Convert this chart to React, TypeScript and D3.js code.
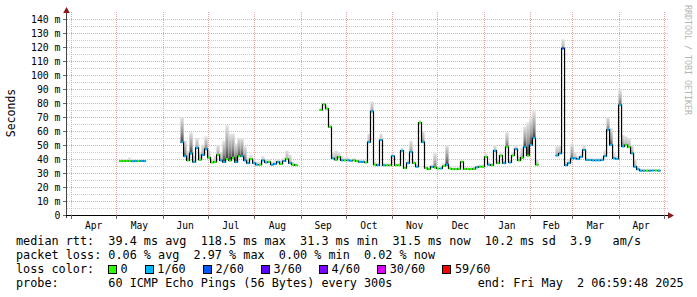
import React from "react";
import * as d3 from "d3";

const W = 697;
const H = 297;
const START = new Date(Date.UTC(2024, 2, 28, 6, 59, 48));
const END = new Date(Date.UTC(2025, 4, 2, 6, 59, 48));
const STEP_DAYS = 2;

const monthStarts = [
  "2024-04-01", "2024-05-01", "2024-06-01", "2024-07-01", "2024-08-01", "2024-09-01", "2024-10-01",
  "2024-11-01", "2024-12-01", "2025-01-01", "2025-02-01", "2025-03-01", "2025-04-01", "2025-05-01",
];
const monthLabels = ["Apr", "May", "Jun", "Jul", "Aug", "Sep", "Oct", "Nov", "Dec", "Jan", "Feb", "Mar", "Apr"];
const yTicks = [0, 10, 20, 30, 40, 50, 60, 70, 80, 90, 100, 110, 120, 130, 140];

// segment start times (2-day samples)
const segmentStarts = ["2024-05-03T00:00:00Z", "2024-06-13T00:00:00Z", "2024-09-13T15:00:00Z", "2025-02-18T00:00:00Z"];

// median rtt (ms), smoke top (ms), loss index
const mayMedian = [38.5, 38.5, 38.6, 38.5, 38.4, 38.5, 38.5, 38.6, 38.5];
const mayTop = [39.5, 40, 40, 41, 40, 39.5, 39.5, 39.5, 39.5];
const mayLoss = [0, 0, 0, 0, 1, 1, 0, 1, 1];

const summerMedian = [52, 42, 39, 44, 38, 48, 39.5, 43, 47, 41, 37.5, 38, 43, 39, 38, 40, 39, 41, 38, 42, 42, 39, 37, 40, 37, 36, 36, 39, 37.5, 38, 36, 36.5, 38, 36.5, 38.5, 40, 37, 36, 35.5];
const summerTop = [70, 53, 46, 59, 42, 55, 45, 50, 56, 46, 40, 42, 50, 45, 53, 64, 58, 58, 51, 55, 55, 49, 41, 43, 40, 38, 38, 42, 40, 40, 37.5, 39, 40, 39, 41, 46, 43, 38, 37];
const summerLoss = [1, 1, 0, 1, 1, 1, 0, 1, 1, 0, 0, 0, 0, 1, 1, 0, 0, 0, 1, 0, 1, 1, 1, 0, 1, 1, 0, 1, 1, 0, 1, 1, 1, 0, 1, 0, 1, 0, 0];

const winterMedian = [
  75, 79, 76, 63, 40.5, 39.5, 41.5, 39, 39, 39, 38.8, 39, 38.5, 38, 38, 37.5, 52, 74, 36, 35.5,
  53.5, 35.5, 35.5, 35.5, 42, 35.5, 35.5, 46, 33.5, 37, 45, 37, 34.5, 66, 52, 33.5, 32.8, 34.5, 34, 33.2,
  33.2, 35, 36, 33.2, 32.8, 32.8, 33, 38, 32.8, 32.8, 32.8, 33, 34, 34.5, 34.5, 41.5, 36, 35.5, 46, 37,
  42.5, 37, 48.5, 37.5, 42.5, 47, 39, 41, 48.5, 42.5, 50, 55, 36,
];
const winterTop = [
  77, 80, 78, 65, 45, 46, 45, 42, 41, 41, 40, 40.5, 40, 40, 39.5, 39, 58, 81, 38, 37,
  58, 37, 37, 36.5, 43, 37, 37, 48, 35, 40, 53, 39, 36, 68, 60, 35, 34, 36, 44, 34.5,
  34.5, 37, 50, 35, 34, 34, 34, 39, 34, 34, 34, 34.5, 35.5, 36, 36, 44, 38, 37, 50, 40,
  45, 39, 59, 40, 45, 50, 42, 48, 63, 66, 69, 74, 40,
];
const winterLoss = [
  0, 0, 0, 0, 1, 0, 0, 1, 0, 1, 1, 0, 0, 1, 1, 0, 1, 1, 0, 1,
  1, 1, 0, 0, 1, 0, 0, 1, 0, 1, 1, 0, 1, 0, 1, 0, 0, 1, 0, 0,
  1, 0, 1, 0, 0, 0, 0, 0, 0, 0, 0, 0, 1, 0, 0, 0, 1, 0, 1, 0,
  0, 1, 0, 1, 0, 1, 0, 0, 1, 0, 1, 1, 0,
];

const springMedian = [42.5, 44, 119, 35.5, 37, 40.5, 40.5, 40, 41.5, 46.5, 39.3, 39.3, 39, 39, 39, 39.3, 42, 61, 50, 40.5, 40, 78.5, 49, 50, 48.5, 44, 34.5, 32.6, 31.7, 31.7, 31.7, 31.7, 31.8, 31.8, 31.7];
const springTop = [49, 50, 125.5, 38, 40, 51, 45, 42, 44, 50, 41, 40.5, 40.5, 40.5, 40.5, 41, 46, 70, 62, 44, 42, 89.5, 57, 56, 55, 50, 40, 35, 33, 33, 33, 33, 33, 33, 33];
const springLoss = [1, 1, 2, 1, 1, 1, 1, 1, 1, 1, 1, 1, 1, 1, 1, 1, 1, 1, 1, 1, 1, 1, 1, 0, 0, 1, 1, 1, 1, 1, 0, 1, 1, 0, 1];

const lossColors = ["#26ff00", "#00b8ff", "#0059ff", "#5e00ff", "#7e00ff", "#dd00ff", "#ff0000"];
const lossLabels = ["0", "1/60", "2/60", "3/60", "4/60", "30/60", "59/60"];

const legendMedian = "median rtt:  39.4 ms avg  118.5 ms max  31.3 ms min  31.5 ms now  10.2 ms sd  3.9   am/s";
const legendLoss = "packet loss: 0.06 % avg  2.97 % max  0.00 % min  0.02 % now";
const legendColorTitle = "loss color:";
const legendProbe = "probe:       60 ICMP Echo Pings (56 Bytes) every 300s            end: Fri May  2 06:59:48 2025";

const MONO = "'DejaVu Sans Mono', monospace";
const DAY = 86400000;

export default function App() {
  const x = d3.scaleUtc().domain([START, END]).range([65.5, 665.5]);
  const y = d3.scaleLinear().domain([0, 140]).range([215, 19]);

  const segments = [
    { start: segmentStarts[0], med: mayMedian, top: mayTop, loss: mayLoss },
    { start: segmentStarts[1], med: summerMedian, top: summerTop, loss: summerLoss },
    { start: segmentStarts[2], med: winterMedian, top: winterTop, loss: winterLoss },
    { start: segmentStarts[3], med: springMedian, top: springTop, loss: springLoss },
  ].map((s) => {
    const t0 = new Date(s.start).getTime();
    return s.med.map((m, i) => ({
      a: new Date(t0 + i * STEP_DAYS * DAY),
      b: new Date(t0 + (i + 1) * STEP_DAYS * DAY),
      m,
      top: s.top[i],
      loss: s.loss[i],
    }));
  });

  const stepLine = d3
    .line<{ t: Date; v: number }>()
    .x((d) => x(d.t))
    .y((d) => y(d.v))
    .curve(d3.curveStepAfter);

  const majorColor = "rgb(236,166,166)";
  const minorColor = "rgb(205,205,205)";

  const months = monthStarts.map((d) => new Date(d + "T00:00:00Z"));

  // legend layout
  const CH = 7.1;
  let lx = 108;
  const legendItems = lossLabels.map((lab, i) => {
    const item = { bx: lx, tx: lx + 12.5, lab, color: lossColors[i] };
    lx = item.tx + lab.length * CH + 17.2;
    return item;
  });

  return (
    <svg width={W} height={H} style={{ display: "block", position: "absolute", left: 0, top: 0 }} xmlns="http://www.w3.org/2000/svg">
      <defs>
        <linearGradient id="smoke" x1="0" y1="1" x2="0" y2="0">
          <stop offset="0" stopColor="#2c2c2c" />
          <stop offset="0.4" stopColor="#8e8e8e" />
          <stop offset="1" stopColor="#e6e6e6" />
        </linearGradient>
      </defs>
      <rect x={0} y={0} width={W} height={H} fill="#ffffff" />

      {/* grid */}
      <g shapeRendering="crispEdges">
        {yTicks.slice(0, -1).map((v) => (
          <line key={"mn" + v} x1={67} x2={669} y1={Math.round(y(v + 5)) + 0.5} y2={Math.round(y(v + 5)) + 0.5} stroke={minorColor} strokeDasharray="1,1" />
        ))}
        {yTicks.slice(1).map((v) => (
          <line key={"mj" + v} x1={67} x2={669} y1={Math.round(y(v)) + 0.5} y2={Math.round(y(v)) + 0.5} stroke={majorColor} strokeDasharray="1,1" />
        ))}
        {months.map((m, i) => (
          <line key={"vg" + i} x1={Math.round(x(m)) + 0.5} x2={Math.round(x(m)) + 0.5} y1={12} y2={215} stroke={majorColor} strokeDasharray="1,1" />
        ))}
      </g>

      {/* smoke */}
      <g>
        {segments.map((seg, si) =>
          seg.map((d, i) => {
            const span = d.top - d.m;
            const x0 = x(d.a);
            const w = x(d.b) - x0;
            const yt = y(d.top);
            const yb = y(d.m - 0.6);
            return (
              <g key={`s${si}-${i}`}>
                <rect x={x0} y={yt} width={w} height={yb - yt} fill="#dedede" />
                <rect x={x0} y={yt} width={w} height={yb - yt} fill="url(#smoke)" fillOpacity={Math.max(0, Math.min(0.95, (span - 2) / 12))} />
              </g>
            );
          })
        )}
      </g>

      {/* median black step line */}
      <g fill="none" stroke="#000" strokeWidth={1.2}>
        {segments.map((seg, si) => {
          const pts = seg.map((d) => ({ t: d.a, v: d.m }));
          pts.push({ t: seg[seg.length - 1].b, v: seg[seg.length - 1].m });
          return <path key={"ml" + si} d={stepLine(pts) || ""} />;
        })}
      </g>

      {/* loss-colored median segments */}
      <g strokeWidth={2}>
        {segments.map((seg, si) =>
          seg.map((d, i) => (
            <line key={`c${si}-${i}`} x1={x(d.a) + 0.3} x2={x(d.b) - 0.3} y1={y(d.m)} y2={y(d.m)} stroke={lossColors[d.loss]} />
          ))
        )}
      </g>

      {/* axes */}
      <g shapeRendering="crispEdges">
        <line x1={66.5} x2={66.5} y1={10} y2={218} stroke="#444" />
        <line x1={63} x2={670} y1={215.5} y2={215.5} stroke="#000" />
        {yTicks.map((v) => (
          <line key={"yt" + v} x1={63} x2={66} y1={Math.round(y(v)) + 0.5} y2={Math.round(y(v)) + 0.5} stroke="#666" />
        ))}
        {months.map((m, i) => (
          <line key={"xt" + i} x1={Math.round(x(m)) + 0.5} x2={Math.round(x(m)) + 0.5} y1={215} y2={219} stroke="#666" />
        ))}
      </g>
      <path d="M66.5,7 L69.8,13 L63.2,13 Z" fill="#8b1a1a" />
      <path d="M674,215.5 L668,212.2 L668,218.8 Z" fill="#8b1a1a" />

      {/* y tick labels */}
      <g fontFamily={MONO} fontSize={9.8} fill="#000" textAnchor="end">
        {yTicks.map((v) => (
          <text key={"yl" + v} x={60.5} y={y(v) + 3.5}>
            {v === 0 ? "0" : `${v} m`}
          </text>
        ))}
      </g>

      {/* x labels */}
      <g fontFamily={MONO} fontSize={9.6} fill="#000" textAnchor="middle">
        {monthLabels.map((lab, i) => {
          const mid = (x(months[i]) + x(months[i + 1])) / 2;
          return (
            <text key={"xl" + i} x={mid} y={228.5}>
              {lab}
            </text>
          );
        })}
      </g>

      <text transform="translate(14.5,113) rotate(-90)" textAnchor="middle" fontFamily={MONO} fontSize={11.5} fill="#000">
        Seconds
      </text>

      <text transform="translate(685,5) rotate(90)" fontFamily={MONO} fontSize={8.3} fill="#b4b4b4">
        RRDTOOL / TOBI OETIKER
      </text>

      {/* legend */}
      <g fontFamily={MONO} fontSize={11.8} fill="#000" style={{ whiteSpace: "pre" }}>
        <text x={16} y={245} xmlSpace="preserve">{legendMedian}</text>
        <text x={16} y={259} xmlSpace="preserve">{legendLoss}</text>
        <text x={16} y={273} xmlSpace="preserve">{legendColorTitle}</text>
        <text x={16} y={287} xmlSpace="preserve">{legendProbe}</text>
      </g>
      <g fontFamily={MONO} fontSize={11.8} fill="#000">
        {legendItems.map((it, i) => (
          <g key={"lg" + i}>
            <rect x={it.bx + 0.5} y={265.5} width={8} height={8} fill={it.color} stroke="#000" strokeWidth={1} shapeRendering="crispEdges" />
            <text x={it.tx} y={273}>{it.lab}</text>
          </g>
        ))}
      </g>
    </svg>
  );
}
